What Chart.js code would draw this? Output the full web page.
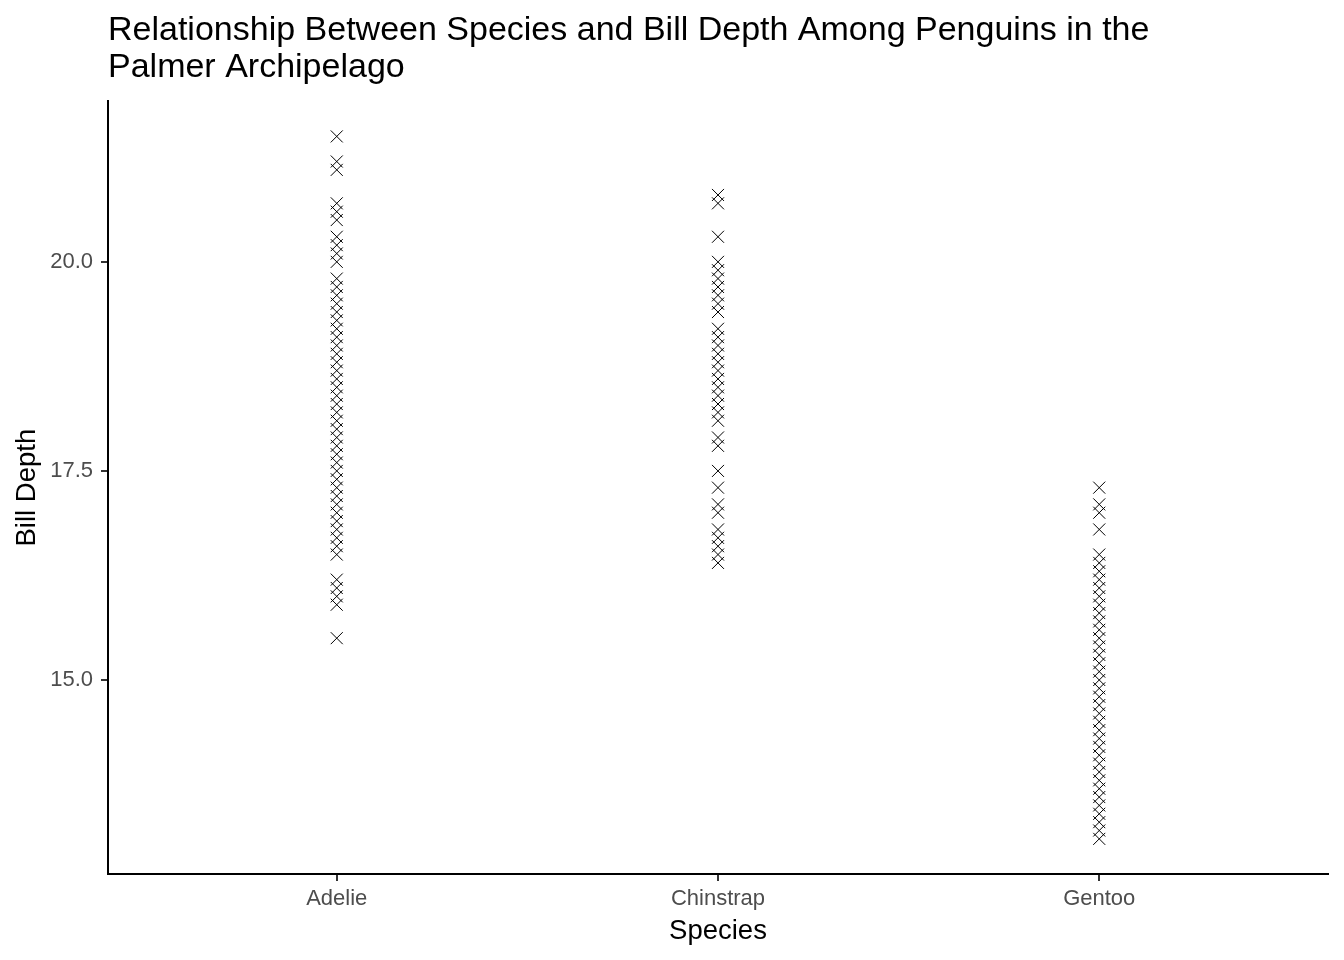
<!DOCTYPE html>
<html>
<head>
<meta charset="utf-8">
<script src="https://cdn.jsdelivr.net/npm/chart.js@4"></script>
<style>
html,body{margin:0;padding:0;background:#fff;}
#wrap{width:1344px;height:960px;}
</style>
</head>
<body>
<div id="wrap"><canvas id="c" width="1344" height="960"></canvas></div>
<script>
const categories = ['Adelie', 'Chinstrap', 'Gentoo'];
const adelieDepth = [21.5, 21.2, 21.1, 20.7, 20.6, 20.5, 20.3, 20.2, 20.1, 20.0,
  19.8, 19.7, 19.6, 19.5, 19.4, 19.3, 19.2, 19.1, 19.0, 18.9, 18.8, 18.7, 18.6, 18.5,
  18.4, 18.3, 18.2, 18.1, 18.0, 17.9, 17.8, 17.7, 17.6, 17.5, 17.4, 17.3, 17.2, 17.1,
  17.0, 16.9, 16.8, 16.7, 16.6, 16.5, 16.2, 16.1, 16.0, 15.9, 15.5];
const chinstrapDepth = [20.8, 20.7, 20.3, 20.0, 19.9, 19.8, 19.7, 19.6, 19.5, 19.4,
  19.2, 19.1, 19.0, 18.9, 18.8, 18.7, 18.6, 18.5, 18.4, 18.3, 18.2, 18.1, 17.9, 17.8,
  17.5, 17.3, 17.1, 17.0, 16.8, 16.7, 16.6, 16.5, 16.4];
const gentooDepth = [17.3, 17.1, 17.0, 16.8, 16.5, 16.4, 16.3, 16.2, 16.1, 16.0,
  15.9, 15.8, 15.7, 15.6, 15.5, 15.4, 15.3, 15.2, 15.1, 15.0, 14.9, 14.8, 14.7, 14.6,
  14.5, 14.4, 14.3, 14.2, 14.1, 14.0, 13.9, 13.8, 13.7, 13.6, 13.5, 13.4, 13.3, 13.2, 13.1];
const yTicks = [15.0, 17.5, 20.0];
const titleLines = ['Relationship Between Species and Bill Depth Among Penguins in the', 'Palmer Archipelago'];

const seriesBySpecies = [adelieDepth, chinstrapDepth, gentooDepth];
const points = [];
seriesBySpecies.forEach((arr, i) => arr.forEach(v => points.push({x: i, y: v})));

const FONT = "'Liberation Sans', Arial, sans-serif";

new Chart(document.getElementById('c'), {
  type: 'scatter',
  data: {
    datasets: [{
      data: points,
      pointStyle: 'crossRot',
      pointRadius: 8.5,
      pointBorderWidth: 1,
      borderColor: '#000',
      backgroundColor: '#000',
      pointHoverRadius: 8.5
    }]
  },
  options: {
    responsive: false,
    animation: false,
    events: [],
    layout: {padding: {left: 0, right: 16, top: 0, bottom: 0}},
    plugins: {
      legend: {display: false},
      tooltip: {enabled: false},
      title: {
        display: true,
        text: titleLines,
        align: 'start',
        fullSize: false,
        color: '#000',
        font: {family: FONT, size: 34, weight: 'normal', lineHeight: 1.1},
        padding: {top: 12, bottom: 14.5}
      }
    },
    scales: {
      x: {
        type: 'linear',
        min: -0.6,
        max: 2.6,
        afterBuildTicks: s => { s.ticks = categories.map((c, i) => ({value: i})); },
        afterFit: s => { s.height = 86; },
        ticks: {
          callback: v => categories[v],
          color: '#4D4D4D',
          font: {family: FONT, size: 22},
          padding: 5,
          maxRotation: 0,
          autoSkip: false
        },
        grid: {drawOnChartArea: false, drawTicks: true, tickLength: 7, color: '#333333', lineWidth: 2},
        border: {display: true, color: '#000', width: 2},
        title: {
          display: true,
          text: 'Species',
          color: '#000',
          font: {family: FONT, size: 27.5},
          padding: {top: 0, bottom: 12}
        }
      },
      y: {
        type: 'linear',
        min: 12.68,
        max: 21.92,
        afterBuildTicks: s => { s.ticks = yTicks.map(v => ({value: v})); },
        afterFit: s => { s.width = 108; },
        ticks: {
          callback: v => Number(v).toFixed(1),
          color: '#4D4D4D',
          font: {family: FONT, size: 22},
          padding: 8,
          autoSkip: false
        },
        grid: {drawOnChartArea: false, drawTicks: true, tickLength: 7, color: '#333333', lineWidth: 2},
        border: {display: true, color: '#000', width: 2},
        title: {
          display: true,
          text: 'Bill Depth',
          color: '#000',
          font: {family: FONT, size: 27.5},
          padding: {top: 11, bottom: 0}
        }
      }
    }
  }
});
</script>
</body>
</html>
